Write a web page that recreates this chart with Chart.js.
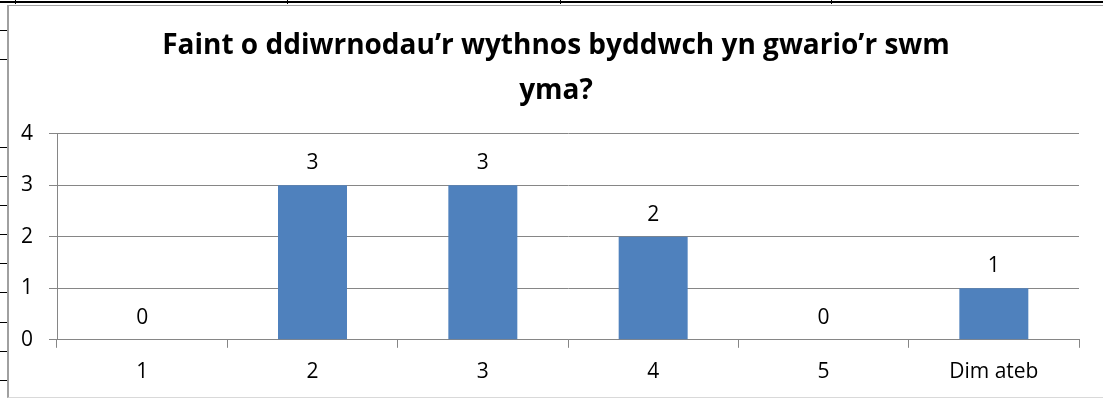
<!DOCTYPE html>
<html lang="cy">
<head>
  <meta charset="UTF-8" />
  <title>Faint o ddiwrnodau</title>
  <script src="https://cdn.jsdelivr.net/npm/chart.js"></script>
  <style>
    body { margin: 0; background: #fff; width: 1103px; height: 401px; overflow: hidden; position: relative; font-family: 'Open Sans', sans-serif; }
    .sheet-h { position: absolute; left: 0; width: 1103px; top: 1px; height: 2px; background: #000; }
    .sheet-v { position: absolute; top: 0; width: 1px; height: 4px; background: #000; }
    .sheet-row { position: absolute; left: 0; width: 7px; height: 1px; background: #000; }
    #frame { position: absolute; left: 7px; top: 5px; width: 1096px; height: 391px;
             border-left: 2px solid #a0a0a0; border-top: 1px solid #a0a0a0; border-bottom: 1px solid #d9d9d9; background: #fff; }
    #chart { display: block; }
  </style>
</head>
<body>
  <!-- rhesi'r daenlen y tu ôl i'r siart -->
  <div class="sheet-h"></div>
  <div id="sheet"></div>

  <div id="frame">
    <canvas id="chart" width="1094" height="391"></canvas>
  </div>

<script>
  const categories = ['1', '2', '3', '4', '5', 'Dim ateb'];
  const counts = [0, 3, 3, 2, 0, 1];
  const yTicks = [0, 1, 2, 3, 4];
  const titleLines = ['Faint o ddiwrnodau’r wythnos byddwch yn gwario’r swm', 'yma?'];

  // llinellau'r daenlen
  const sheet = document.getElementById('sheet');
  [15, 287, 560, 831].forEach(x => {
    const d = document.createElement('div');
    d.className = 'sheet-v';
    d.style.left = x + 'px';
    sheet.appendChild(d);
  });
  [30, 59, 147, 176, 205, 234, 263, 292, 322, 351, 380].forEach(y => {
    const d = document.createElement('div');
    d.className = 'sheet-row';
    d.style.top = y + 'px';
    sheet.appendChild(d);
  });

  const GRID = '#868686';
  const tickFont = { family: "'Open Sans', sans-serif", size: 21 };

  // labeli gwerth uwchben y barrau
  const valueLabels = {
    id: 'valueLabels',
    afterDatasetsDraw(chart) {
      const ctx = chart.ctx;
      const meta = chart.getDatasetMeta(0);
      ctx.save();
      ctx.font = `${tickFont.size}px ${tickFont.family}`;
      ctx.fillStyle = '#000';
      ctx.textAlign = 'center';
      ctx.textBaseline = 'middle';
      meta.data.forEach((bar, i) => {
        ctx.fillText(String(counts[i]), bar.x, bar.y - 22);
      });
      ctx.restore();
    }
  };

  new Chart(document.getElementById('chart'), {
    type: 'bar',
    data: {
      labels: categories,
      datasets: [{
        data: counts,
        backgroundColor: '#4F81BD',
        borderWidth: 0,
        categoryPercentage: 1,
        barPercentage: 0.405
      }]
    },
    options: {
      responsive: false,
      animation: false,
      devicePixelRatio: 1,
      layout: { padding: 0 },
      plugins: {
        legend: { display: false },
        tooltip: { enabled: false },
        title: {
          display: true,
          text: titleLines,
          color: '#000',
          font: { family: "'Open Sans', sans-serif", size: 28, weight: 'bold', lineHeight: 1.6 },
          padding: { top: 18, bottom: 20 }
        }
      },
      scales: {
        x: {
          offset: true,
          grid: { drawOnChartArea: false, drawTicks: true, tickLength: 8, color: GRID, offset: true },
          border: { color: GRID, width: 1 },
          ticks: { color: '#000', font: tickFont, padding: 12, maxRotation: 0 }
        },
        y: {
          min: yTicks[0],
          max: yTicks[yTicks.length - 1],
          afterBuildTicks: scale => { scale.ticks = yTicks.map(v => ({ value: v })); },
          afterFit: scale => { scale.width = 48; },
          grid: { color: GRID, tickLength: 8 },
          border: { color: GRID, width: 1 },
          ticks: { color: '#000', font: tickFont, padding: 16 }
        },
        // bwlch gwag ar y dde
        gap: {
          type: 'linear',
          position: 'right',
          grid: { display: false },
          border: { display: false },
          ticks: { display: false },
          afterFit: scale => { scale.width = 24; }
        }
      }
    },
    plugins: [valueLabels]
  });
</script>
</body>
</html>
